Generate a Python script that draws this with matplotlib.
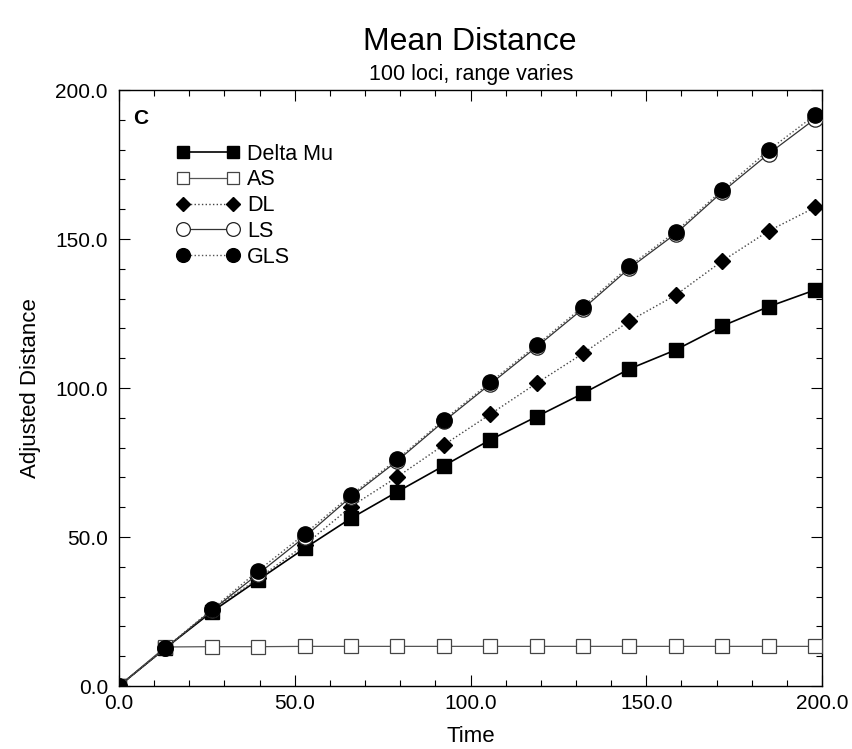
import matplotlib
matplotlib.use("Agg")
import matplotlib.pyplot as plt
from matplotlib.ticker import MultipleLocator, FormatStrFormatter

plt.rcParams['font.family'] = ['Liberation Sans', 'DejaVu Sans']

# time points
time = [0.0, 13.2, 26.4, 39.6, 52.8, 66.0, 79.2, 92.4, 105.6, 118.8,
        132.0, 145.2, 158.4, 171.6, 184.8, 198.0]

# series values
delta_mu = [0.0, 12.7, 24.9, 35.6, 46.2, 56.3, 65.2, 73.9, 82.6, 90.4,
            98.2, 106.4, 112.8, 120.8, 127.3, 132.9]
as_vals = [0.0, 13.1, 13.2, 13.2, 13.3, 13.3, 13.3, 13.3, 13.3, 13.3,
           13.3, 13.3, 13.3, 13.3, 13.3, 13.3]
dl = [0.0, 12.7, 25.4, 36.1, 47.3, 60.2, 70.2, 80.9, 91.2, 101.6,
      111.6, 122.5, 131.2, 142.6, 152.7, 160.6]
ls = [0.0, 12.7, 25.4, 37.6, 50.0, 63.5, 75.6, 88.8, 101.3, 113.8,
      126.6, 140.2, 151.8, 165.8, 178.6, 190.3]
gls = [0.0, 12.7, 25.7, 38.7, 51.0, 64.1, 76.1, 89.3, 101.9, 114.4,
       127.3, 140.9, 152.5, 166.4, 179.8, 191.6]

fig = plt.figure(figsize=(8.53, 7.49), dpi=100)
ax = fig.add_axes([0.1395, 0.0841, 0.8242, 0.7957])

ax.plot(time, delta_mu, color='black', lw=1.2, ls='-', marker='s', ms=9.4,
        mfc='black', mec='black', label='Delta Mu', zorder=3)
ax.plot(time, as_vals, color='#555555', lw=0.9, ls='-', marker='s', ms=9.4,
        mfc='white', mec='#444444', mew=0.9, label='AS', zorder=3)
ax.plot(time, dl, color='#444444', lw=1.0, ls=':', marker='D', ms=8,
        mfc='black', mec='black', label='DL', zorder=4)
ax.plot(time, ls, color='#333333', lw=0.9, ls='-', marker='o', ms=11,
        mfc='white', mec='#222222', mew=0.9, label='LS', zorder=5)
ax.plot(time, gls, color='#555555', lw=1.0, ls=':', marker='o', ms=11,
        mfc='black', mec='black', label='GLS', zorder=6)

ax.set_xlim(0, 200)
ax.set_ylim(0, 200)
ax.xaxis.set_major_locator(MultipleLocator(50))
ax.xaxis.set_minor_locator(MultipleLocator(10))
ax.yaxis.set_major_locator(MultipleLocator(50))
ax.yaxis.set_minor_locator(MultipleLocator(10))
ax.xaxis.set_major_formatter(FormatStrFormatter('%.1f'))
ax.yaxis.set_major_formatter(FormatStrFormatter('%.1f'))
ax.tick_params(which='both', direction='in', top=True, right=True,
               labelsize=15, width=0.8)
ax.tick_params(which='major', length=8)
ax.tick_params(axis='x', which='major', pad=6)
ax.tick_params(axis='y', which='major', pad=8)
ax.tick_params(which='minor', length=4)
for sp in ax.spines.values():
    sp.set_linewidth(1.0)

ax.set_xlabel('Time', fontsize=16, labelpad=9)
ax.set_ylabel('Adjusted Distance', fontsize=16, labelpad=10)

ax.text(0.02, 0.968, 'C', transform=ax.transAxes, fontsize=15,
        fontweight='bold', va='top', ha='left')

leg = ax.legend(loc='upper left', bbox_to_anchor=(0.082, 0.91), frameon=False,
                fontsize=15.5, numpoints=2, handlelength=2.93,
                handletextpad=0.35, labelspacing=0.22, borderaxespad=0,
                borderpad=0, markerscale=0.9)

fig.text(0.551, 0.944, 'Mean Distance', ha='center', va='center', fontsize=23)
fig.text(0.552, 0.900, '100 loci, range varies', ha='center', va='center',
         fontsize=15.5)

fig.savefig('out.png', dpi=100)
